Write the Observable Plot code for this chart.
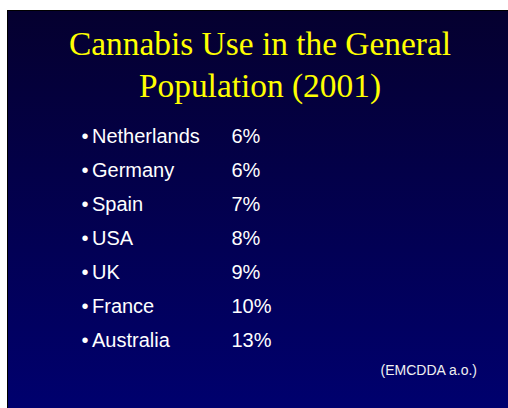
<!DOCTYPE html>
<html><head><meta charset="utf-8">
<script src="https://cdn.jsdelivr.net/npm/d3@7"></script>
<script src="https://cdn.jsdelivr.net/npm/@observablehq/plot@0.6"></script>
<style>
html,body{margin:0;padding:0;background:#fff;width:508px;height:408px;overflow:hidden}
#slide{position:absolute;left:7px;top:10px;width:501px;height:398px;background:linear-gradient(to bottom,#05002f,#00006e);box-shadow:inset 1px 1px 0 #000}
#title{position:absolute;left:5px;top:13px;width:496px;text-align:center;font-family:"Liberation Serif","Times New Roman",serif;font-size:33.4px;line-height:42px;color:#ffff00;margin:0;font-weight:normal}
#chart{position:absolute;left:0;top:90px}
#source{position:absolute;right:31px;top:352px;font-family:"Liberation Sans",Arial,sans-serif;font-size:14px;line-height:16px;color:#f0f0f0}
</style></head>
<body>
<div id="slide">
  <h1 id="title">Cannabis Use in the General<br>Population (2001)</h1>
  <div id="chart"></div>
  <div id="source">(EMCDDA a.o.)</div>
</div>
<script>
const countries = ["Netherlands", "Germany", "Spain", "USA", "UK", "France", "Australia"];
const shares = [6, 6, 7, 8, 9, 10, 13];
const data = countries.map((c, i) => ({country: c, share: shares[i]}));

const textStyle = {fill: "white", fontSize: 20, fontFamily: "'Liberation Sans', Arial, sans-serif", textAnchor: "start", frameAnchor: "left"};

const chart = Plot.plot({
  width: 501,
  height: 300,
  marginTop: 34.6,
  marginBottom: 58.4,
  marginLeft: 74,
  marginRight: 20,
  style: {background: "transparent", color: "white", fontFamily: "'Liberation Sans', Arial, sans-serif", overflow: "visible"},
  y: {type: "point", domain: countries, padding: 0, axis: null},
  marks: [
    Plot.text(data, {...textStyle, y: "country", text: () => "\u2022"}),
    Plot.text(data, {...textStyle, y: "country", text: "country", dx: 10.5}),
    Plot.text(data, {...textStyle, y: "country", text: d => `${d.share}%`, dx: 150})
  ]
});
document.getElementById("chart").appendChild(chart);
</script>
</body></html>
